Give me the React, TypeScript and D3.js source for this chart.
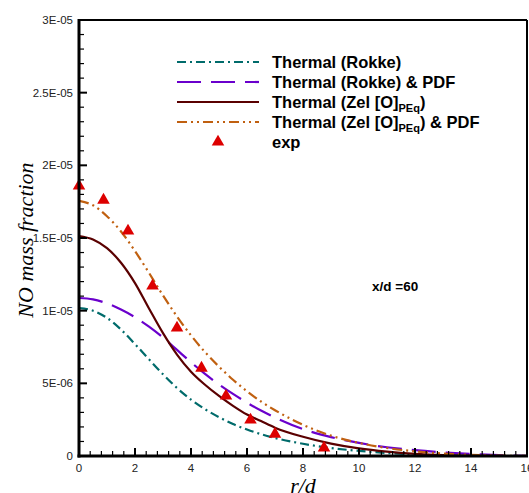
import React from "react";
import * as d3 from "d3";

const W = 529;
const H = 493;

// r/d positions for the model curves
const rGrid = [0, 0.5, 1, 1.5, 2, 2.5, 3, 3.5, 4, 4.5, 5, 5.5, 6, 6.5, 7, 8, 9, 10, 11, 12, 13, 14, 15, 16];

// NO mass fraction values (in units of 1e-6)
const thermalRokke = [10.18, 10.0, 9.5, 8.7, 7.7, 6.65, 5.62, 4.68, 3.88, 3.22, 2.67, 2.2, 1.82, 1.5, 1.24, 0.84, 0.55, 0.35, 0.21, 0.11, 0.05, 0.02, 0, 0];
const thermalRokkePdf = [10.87, 10.78, 10.5, 10.08, 9.55, 8.9, 8.15, 7.3, 6.45, 5.65, 4.92, 4.27, 3.67, 3.13, 2.65, 1.85, 1.3, 0.9, 0.6, 0.4, 0.25, 0.14, 0.06, 0.01];
const thermalZel = [15.14, 14.9, 14.3, 13.3, 11.9, 10.15, 8.45, 6.98, 5.8, 4.9, 4.13, 3.45, 2.85, 2.4, 1.95, 1.32, 0.85, 0.52, 0.3, 0.15, 0.06, 0.02, 0, 0];
const thermalZelPdf = [17.55, 17.25, 16.5, 15.45, 14.1, 12.6, 11.05, 9.6, 8.3, 7.15, 6.15, 5.25, 4.45, 3.75, 3.15, 2.15, 1.4, 0.9, 0.55, 0.32, 0.17, 0.08, 0.03, 0];

// experimental points
const expR = [0, 0.875, 1.75, 2.625, 3.5, 4.375, 5.25, 6.125, 7, 8.75];
const expY = [18.65, 17.68, 15.55, 11.77, 8.88, 6.12, 4.2, 2.55, 1.58, 0.62];

// tick labels
const xTicks = [0, 2, 4, 6, 8, 10, 12, 14, 16];
const xTickLabels = ["0", "2", "4", "6", "8", "10", "12", "14", "16"];
const yTicks = [0, 5e-6, 1e-5, 1.5e-5, 2e-5, 2.5e-5, 3e-5];
const yTickLabels = ["0", "5E-06", "1E-05", "1.5E-05", "2E-05", "2.5E-05", "3E-05"];

const series = [
  { name: "Thermal (Rokke)", values: thermalRokke, color: "#006b6b", dash: "9,4,2,4" },
  { name: "Thermal (Rokke) & PDF", values: thermalRokkePdf, color: "#6a00cc", dash: "24,10" },
  { name: "Thermal (Zel [O]", sub: "PEq", after: ")", values: thermalZel, color: "#5a0000", dash: "" },
  { name: "Thermal (Zel [O]", sub: "PEq", after: ") & PDF", values: thermalZelPdf, color: "#c06010", dash: "10,4,2,4,2,4" },
];

export default function App() {
  const left = 79, right = 527, top = 20, bottom = 456;
  const x = d3.scaleLinear().domain([0, 16]).range([left, right]);
  const y = d3.scaleLinear().domain([0, 3e-5]).range([bottom, top]);

  const line = d3
    .line<[number, number]>()
    .x((d) => x(d[0]))
    .y((d) => y(d[1] * 1e-6))
    .curve(d3.curveMonotoneX);

  const xMinor = d3.range(0, 16.001, 0.4);
  const yMinor = d3.range(0, 3.0001e-5, 1e-6);
  const tri = d3.symbol().type(d3.symbolTriangle).size(68)();

  const font = "Arial, 'Liberation Sans', Helvetica, sans-serif";
  const serif = "'Times New Roman', 'Liberation Serif', serif";

  const legendX1 = 177, legendX2 = 259, legendTextX = 272;
  const legendY = [62, 82, 102, 122, 142];

  return (
    <svg width={W} height={H} style={{ position: "absolute", left: 0, top: 0, background: "#fff" }}>
      <defs>
        <clipPath id="plotClip">
          <rect x={left} y={top} width={right - left} height={bottom - top} />
        </clipPath>
      </defs>
      <rect x={0} y={0} width={W} height={H} fill="#fff" />

      {/* curves */}
      <g clipPath="url(#plotClip)">
        {series.map((s, i) => (
          <path
            key={i}
            d={line(rGrid.map((r, j) => [r, s.values[j]] as [number, number])) || ""}
            fill="none"
            stroke={s.color}
            strokeWidth={2.2}
            strokeDasharray={s.dash || undefined}
          />
        ))}
      </g>

      {/* experimental points */}
      {expR.map((r, i) => (
        <path key={i} d={tri || ""} transform={`translate(${x(r)},${y(expY[i] * 1e-6) + 1})`} fill="#dd0000" />
      ))}

      {/* frame */}
      <line x1={left} y1={top} x2={right} y2={top} stroke="#000" strokeWidth={2} />
      <line x1={right} y1={top} x2={right} y2={bottom} stroke="#000" strokeWidth={2} />
      <line x1={left} y1={top - 1} x2={left} y2={bottom + 1.5} stroke="#000" strokeWidth={3} />
      <line x1={left - 1.5} y1={bottom} x2={right + 1} y2={bottom} stroke="#000" strokeWidth={3} />

      {/* y ticks */}
      {yMinor.map((v, i) => {
        const major = i % 5 === 0;
        return (
          <line key={"ym" + i} x1={left} x2={left + (major ? 8 : 5)} y1={y(v)} y2={y(v)} stroke="#000" strokeWidth={major ? 2 : 1.2} />
        );
      })}
      {yTicks.map((v, i) => (
        <text key={"yt" + i} x={left - 6} y={y(v)} dy="0.35em" textAnchor="end" fontFamily={font} fontSize={11.5} fill="#222">
          {yTickLabels[i]}
        </text>
      ))}

      {/* x ticks */}
      {xMinor.map((v, i) => {
        const major = i % 5 === 0;
        return (
          <line key={"xm" + i} x1={x(v)} x2={x(v)} y1={bottom} y2={bottom - (major ? 8 : 5)} stroke="#000" strokeWidth={major ? 2 : 1.2} />
        );
      })}
      {xTicks.map((v, i) => (
        <text key={"xt" + i} x={x(v)} y={bottom + 16} textAnchor="middle" fontFamily={font} fontSize={11.5} fill="#222">
          {xTickLabels[i]}
        </text>
      ))}

      {/* axis titles */}
      <text x={303} y={493} textAnchor="middle" fontFamily={serif} fontStyle="italic" fontSize={22} fill="#000">
        r/d
      </text>
      <text
        transform={`translate(33,240) rotate(-90)`}
        textAnchor="middle"
        fontFamily={serif}
        fontStyle="italic"
        fontSize={22}
        fill="#000"
      >
        NO mass fraction
      </text>

      {/* legend */}
      {series.map((s, i) => (
        <g key={"lg" + i}>
          <line x1={legendX1} x2={legendX2} y1={legendY[i]} y2={legendY[i]} stroke={s.color} strokeWidth={2.2} strokeDasharray={s.dash || undefined} />
          <text x={legendTextX} y={legendY[i] + 6} fontFamily={font} fontWeight="bold" fontSize={16.5} fill="#000">
            {s.name}
            {s.sub ? (
              <tspan fontSize={11} dy={4}>
                {s.sub}
              </tspan>
            ) : null}
            {s.after ? <tspan dy={s.sub ? -4 : 0}>{s.after}</tspan> : null}
          </text>
        </g>
      ))}
      <path d={tri || ""} transform={`translate(${(legendX1 + legendX2) / 2},${legendY[4]})`} fill="#dd0000" />
      <text x={legendTextX} y={legendY[4] + 6} fontFamily={font} fontWeight="bold" fontSize={16.5} fill="#000">
        exp
      </text>

      <text x={372} y={291} fontFamily={font} fontWeight="bold" fontSize={13.5} fill="#000">
        x/d =60
      </text>
    </svg>
  );
}
